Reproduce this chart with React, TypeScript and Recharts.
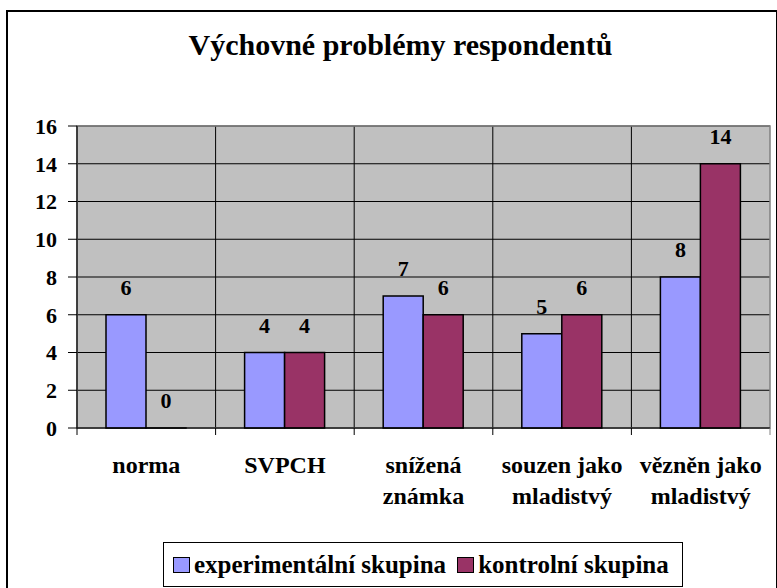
import { Bar, BarChart, CartesianGrid, LabelList, Legend, ReferenceArea, XAxis, YAxis } from "recharts"

const categories = ["norma", "SVPCH", "snížená\nznámka", "souzen jako\nmladistvý", "vězněn jako\nmladistvý"]
const experimental = [6, 4, 7, 5, 8]
const control = [0, 4, 6, 6, 14]
const yTicks = [0, 2, 4, 6, 8, 10, 12, 14, 16]

const seriesNames = ["experimentální skupina", "kontrolní skupina"]
const colors = ["#9999FF", "#993366"]

const data = categories.map((name, i) => ({
  name,
  experimental: experimental[i],
  control: control[i],
}))

const font = "'Liberation Serif', 'Times New Roman', serif"

const W = 777
const H = 588
const margin = { top: 126, right: 7, left: 0, bottom: 2 }
const yAxisWidth = 77
const bandWidth = (W - margin.left - yAxisWidth - margin.right) / categories.length

function XTick(props: any) {
  const { x, y, payload, index } = props
  const lines = String(payload.value).split("\n")
  const left = x - bandWidth / 2
  return (
    <g>
      <line x1={left} x2={left} y1={y} y2={y + 7} stroke="#000" />
      {index === categories.length - 1 && (
        <line x1={left + bandWidth} x2={left + bandWidth} y1={y} y2={y + 7} stroke="#808080" />
      )}
      <text textAnchor="middle" fontFamily={font} fontWeight="bold" fontSize={24} fill="#000">
        {lines.map((l, i) => (
          <tspan key={i} x={x} y={y + 45 + i * 31}>
            {l}
          </tspan>
        ))}
      </text>
    </g>
  )
}

// value label above each bar
function ValueLabel(props: any) {
  const { x, y, width, height, value } = props
  if (value === undefined || value === null) return null
  // zero bars get a tiny min height, so anchor on the bar's bottom edge
  const top = value === 0 ? y + height : y
  return (
    <text x={x + width / 2} y={top - 20} textAnchor="middle" fontFamily={font} fontWeight="bold" fontSize={22} fill="#000">
      {value}
    </text>
  )
}

function LegendBox() {
  return (
    <div
      style={{
        width: 518,
        height: 43,
        border: "1.5px solid #000",
        background: "#fff",
        display: "flex",
        alignItems: "center",
        fontFamily: font,
        fontWeight: "bold",
        fontSize: 25,
        boxSizing: "content-box",
        whiteSpace: "nowrap",
      }}
    >
      {seriesNames.map((n, i) => (
        <span key={n} style={{ display: "flex", alignItems: "center", marginLeft: i === 0 ? 9 : 11 }}>
          <span
            style={{
              width: 15,
              height: 14,
              background: colors[i],
              border: "1.5px solid #000",
              marginRight: 4,
              display: "inline-block",
            }}
          />
          {n}
        </span>
      ))}
    </div>
  )
}

export default function App() {
  return (
    <div style={{ position: "absolute", left: 0, top: 0, width: W, height: H, overflow: "hidden", background: "#fff" }}>
      <div
        style={{
          position: "absolute",
          left: 6,
          top: 10,
          width: 768,
          height: 600,
          border: "2px solid #000",
        }}
      />
      <div
        style={{
          position: "absolute",
          left: 0,
          top: 28,
          width: 801,
          textAlign: "center",
          fontFamily: font,
          fontWeight: "bold",
          fontSize: 30,
          whiteSpace: "nowrap",
        }}
      >
        Výchovné problémy respondentů
      </div>
      <div style={{ position: "absolute", left: 0, top: 0 }}>
        <BarChart width={W} height={H} data={data} margin={margin} barGap={0}>
          <CartesianGrid
            fill="#C0C0C0"
            stroke="#000"
            strokeOpacity={1}
            verticalCoordinatesGenerator={({ offset }: any) =>
              categories.map((_, i) => offset.left + i * (offset.width / categories.length))
            }
          />
          <ReferenceArea y1={0} y2={16} fill="none" stroke="#808080" strokeWidth={1.5} />
          <XAxis
            dataKey="name"
            interval={0}
            height={113}
            tick={<XTick />}
            tickLine={false}
            tickSize={0}
            tickMargin={0}
            axisLine={{ stroke: "#000" }}
          />
          <YAxis
            width={yAxisWidth}
            domain={[0, 16]}
            ticks={yTicks}
            interval={0}
            tickSize={9}
            tickMargin={11}
            tickLine={{ stroke: "#000" }}
            axisLine={{ stroke: "#000" }}
            tick={{ fill: "#000", fontFamily: font, fontWeight: "bold", fontSize: 22 }}
          />
          <Bar dataKey="experimental" name={seriesNames[0]} fill={colors[0]} stroke="#000" strokeWidth={1.5} barSize={40} minPointSize={0.01} isAnimationActive={false}>
            <LabelList dataKey="experimental" content={<ValueLabel />} />
          </Bar>
          <Bar dataKey="control" name={seriesNames[1]} fill={colors[1]} stroke="#000" strokeWidth={1.5} barSize={40} minPointSize={0.01} isAnimationActive={false}>
            <LabelList dataKey="control" content={<ValueLabel />} />
          </Bar>
          <Legend
            verticalAlign="bottom"
            content={<LegendBox />}
            wrapperStyle={{ position: "absolute", left: 163, bottom: 1, width: "auto" }}
          />
        </BarChart>
      </div>
    </div>
  )
}
